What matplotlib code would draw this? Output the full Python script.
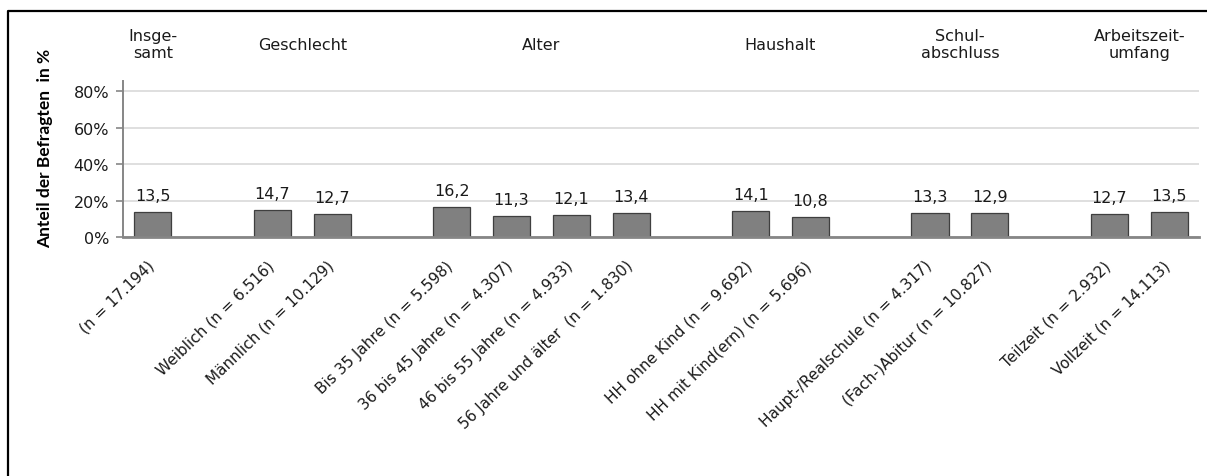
import matplotlib
matplotlib.use("Agg")
import matplotlib.pyplot as plt
from matplotlib.lines import Line2D
from matplotlib.ticker import FixedLocator, FuncFormatter
from matplotlib.transforms import ScaledTranslation, blended_transform_factory

# Group headings and how many bars belong to each group
group_titles = ["Insge-\nsamt", "Geschlecht", "Alter", "Haushalt",
                "Schul-\nabschluss", "Arbeitszeit-\numfang"]
group_sizes = [1, 2, 4, 2, 2, 2]

# Category labels (one per bar)
categories = [
    "(n = 17.194)",
    "Weiblich (n = 6.516)", "Männlich (n = 10.129)",
    "Bis 35 Jahre (n = 5.598)", "36 bis 45 Jahre (n = 4.307)",
    "46 bis 55 Jahre (n = 4.933)", "56 Jahre und älter  (n = 1.830)",
    "HH ohne Kind (n = 9.692)", "HH mit Kind(ern) (n = 5.696)",
    "Haupt-/Realschule (n = 4.317)", "(Fach-)Abitur (n = 10.827)",
    "Teilzeit (n = 2.932)", "Vollzeit (n = 14.113)",
]

# Share of respondents in percent
values = [13.5, 14.7, 12.7, 16.2, 11.3, 12.1, 13.4, 14.1, 10.8, 13.3, 12.9, 12.7, 13.5]

y_ticks = [0, 20, 40, 60, 80]

W, H = 1207, 477
fig = plt.figure(figsize=(W / 100, H / 100), dpi=100)
ax = fig.add_axes([123 / W, 1 - 238 / H, (1199 - 123) / W, (238 - 82) / H])

# Bar slots: one empty slot between the groups
positions, group_centers = [], []
slot = 0
for size in group_sizes:
    members = list(range(slot, slot + size))
    positions.extend(members)
    group_centers.append(sum(members) / size)
    slot += size + 1
n_slots = slot - 1

ax.bar(positions, values, width=0.62, color="#808080", edgecolor="#3f3f3f",
       linewidth=0.9, zorder=3)

for x, v in zip(positions, values):
    ax.annotate(f"{v:.1f}".replace(".", ","), (x, v), xytext=(0, 6.5),
                textcoords="offset points", ha="center", va="bottom",
                fontsize=11.5, color="#1a1a1a", zorder=4)

ax.set_xlim(-0.5, n_slots - 0.5)
ax.set_ylim(0, 85.5)
ax.yaxis.set_major_locator(FixedLocator(y_ticks))
ax.yaxis.set_major_formatter(FuncFormatter(lambda v, _: f"{v:.0f}%"))
ax.grid(axis="y", color="#d9d9d9", linewidth=1.2, zorder=0)
ax.set_xticks([])
ax.tick_params(axis="y", length=5, width=1.2, color="#868686", labelsize=11.5,
               labelcolor="#1a1a1a", pad=5)
for side in ("top", "right"):
    ax.spines[side].set_visible(False)
ax.spines["left"].set_color("#868686")
ax.spines["left"].set_linewidth(1.4)
ax.spines["bottom"].set_color("#868686")
ax.spines["bottom"].set_linewidth(2.0)
ax.spines["bottom"].set_zorder(5)

# Rotated category labels, right end hanging below each bar
label_tr = blended_transform_factory(ax.transData, ax.transAxes) + \
    ScaledTranslation(-0.01, -0.26, fig.dpi_scale_trans)
for x, lab in zip(positions, categories):
    ax.text(x, 0, lab, transform=label_tr, rotation=44, rotation_mode="anchor",
            ha="right", va="center", fontsize=11, color="#1a1a1a")

# Group headings above the plot
head_tr = blended_transform_factory(ax.transData, fig.transFigure)
for cx, title in zip(group_centers, group_titles):
    ax.text(cx, 1 - 45 / H, title, transform=head_tr, ha="center", va="center",
            fontsize=11.5, color="#1a1a1a", linespacing=1.2, clip_on=False)

fig.text(45 / W, 1 - 148 / H, "Anteil der Befragten  in %", rotation=90,
         ha="center", va="center", fontsize=12.5, fontweight="bold",
         family=["Lato", "DejaVu Sans"], color="#000000")

# Outer frame (left and top edges)
fig.add_artist(Line2D([8 / W, 8 / W, 1.01], [-0.01, 1 - 12 / H, 1 - 12 / H],
                      transform=fig.transFigure, color="black", linewidth=1.6))

fig.savefig("out.png", dpi=100)
